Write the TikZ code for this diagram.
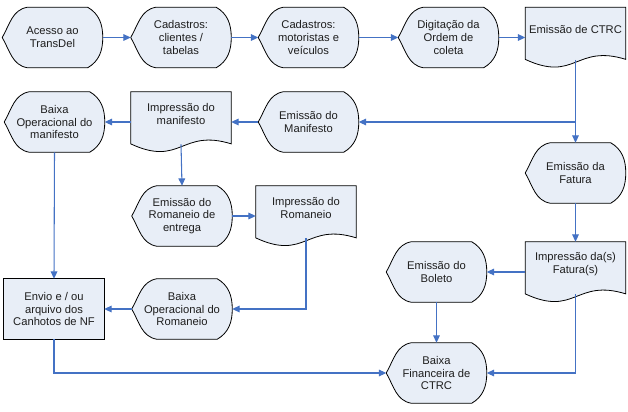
\documentclass[tikz,border=0pt]{standalone}
\usepackage{fontspec}
\setmainfont{Liberation Sans}
\usetikzlibrary{calc,backgrounds,arrows.meta}
\definecolor{shfill}{RGB}{232,238,247}
\definecolor{lnblue}{RGB}{68,114,196}
\definecolor{txtc}{RGB}{30,30,30}
\tikzset{
 box/.style={minimum width=75pt,minimum height=45pt,inner sep=0pt,align=center,font=\fontsize{8.4}{9.6}\selectfont,text=txtc},
 txt/.style={inner sep=0pt,align=center,font=\fontsize{8.4}{9.6}\selectfont,text=txtc},
 outl/.style={draw=black,fill=shfill,line width=0.6pt},
 flow/.style={draw=lnblue,line width=0.8pt,-{Triangle[length=5.5pt,width=5pt]}},
}
\newcommand\dispshape[1]{\path[outl] ($(#1.north west)!0.25!(#1.north east)$) -- ($(#1.north west)!0.85!(#1.north east)$) to[out=-30,in=90] (#1.east) to[out=-90,in=30] ($(#1.south west)!0.85!(#1.south east)$) -- ($(#1.south west)!0.25!(#1.south east)$) to[out=170,in=-60] (#1.west) to[out=60,in=190] cycle;}
\newcommand\docshape[1]{\path[outl] (#1.north west) -- (#1.north east) -- ($(#1.south east)+(0,-8.4)$) .. controls ($(#1.south)+(0,-24)$) and ($(#1.south)+(0,15)$) .. ($(#1.south west)+(0,-8.4)$) -- cycle;}
\begin{document}
\begin{tikzpicture}[x=0.75pt,y=-0.75pt]
\useasboundingbox (0,0) rectangle (628,411);
% row 1
\node[box] (a1) at (52.5,37.5) {Acesso ao\\TransDel};
\node[box] (a2) at (181,37.5) {Cadastros:\\clientes /\\tabelas};
\node[box] (a3) at (308.5,37.5) {Cadastros:\\motoristas e\\veículos};
\node[box] (a4) at (448.5,37.5) {Digitação da\\Ordem de\\coleta};
\node[box] (ctrc) at (575.5,37.5) {};
\node[txt] (ctrct) at (575.5,29.5) {Emissão de CTRC};
% row 2
\node[box] (baixam) at (54.5,122) {Baixa\\Operacional do\\manifesto};
\node[box] (impm) at (181,122) {};
\node[txt] (impmt) at (181,114) {Impressão do\\manifesto};
\node[box] (manif) at (308.5,122) {Emissão do\\Manifesto};
\node[box] (fatura) at (575.5,173) {Emissão da\\Fatura};
% row 3
\node[box] (rom) at (182,216) {Emissão do\\Romaneio de\\entrega};
\node[box] (improm) at (306,216) {};
\node[txt] (impromt) at (306,208) {Impressão do\\Romaneio};
\node[box] (impf) at (575.5,272) {};
\node[txt] (impft) at (575.5,264) {Impressão da(s)\\Fatura(s)};
\node[box] (boleto) at (436.5,272) {Emissão do\\Boleto};
% row 4
\node[box] (envio) at (54,309) {Envio e / ou\\arquivo dos\\Canhotos de NF};
\node[box] (baixar) at (182,309) {Baixa\\Operacional do\\Romaneio};
\node[box] (fin) at (436.5,373) {Baixa\\Financeira de\\CTRC};
% shapes
\begin{scope}[on background layer]
\dispshape{a1}\dispshape{a2}\dispshape{a3}\dispshape{a4}
\docshape{ctrc}
\dispshape{baixam}\docshape{impm}\dispshape{manif}\dispshape{fatura}
\dispshape{rom}\docshape{improm}\docshape{impf}\dispshape{boleto}
\path[outl,line width=0.9pt] (envio.north west) rectangle (envio.south east);
\dispshape{baixar}\dispshape{fin}
\end{scope}
\coordinate (ctrcb) at ($(ctrc.south)+(0,-8)$);
\coordinate (impmb) at ($(impm.south)+(0,-8)$);
\coordinate (impromb) at ($(improm.south)+(0,-8)$);
\coordinate (impfb) at ($(impf.south)+(0,-8)$);
% connectors
\draw[flow] (a1.east) -- (a2.west);
\draw[flow] (a2.east) -- (a3.west);
\draw[flow] (a3.east) -- (a4.west);
\draw[flow] (a4.east) -- (ctrc.west);
\draw[flow] (ctrcb) -- (fatura.north);
\draw[flow] (ctrcb |- manif.east) -- (manif.east);
\draw[flow] (manif.west) -- (impm.east);
\draw[flow] (impm.west) -- (baixam.east);
\draw[flow] (impmb) -- (rom.north);
\draw[flow] (rom.east) -- (improm.west);
\draw[flow] (impromb) |- (baixar.east);
\draw[flow] (baixar.west) -- (envio.east);
\draw[flow] (baixam.south) -- (envio.north);
\draw[flow] (envio.south) |- (fin.west);
\draw[flow] (fatura.south) -- (impf.north);
\draw[flow] (impf.west) -- (boleto.east);
\draw[flow] (boleto.south) -- (fin.north);
\draw[flow] (impfb) |- (fin.east);
\end{tikzpicture}
\end{document}
